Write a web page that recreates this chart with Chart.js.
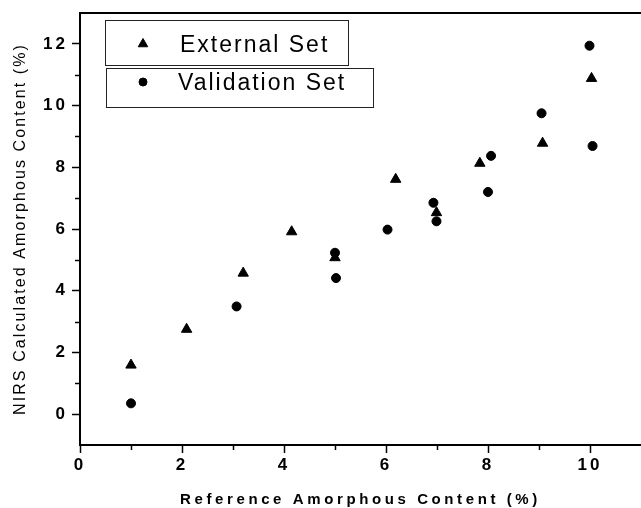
<!DOCTYPE html>
<html>
<head>
<meta charset="utf-8">
<script src="https://cdn.jsdelivr.net/npm/chart.js@4.4.1/dist/chart.umd.min.js"></script>
<style>
  html, body { margin: 0; padding: 0; background: #fff; }
  canvas { display: block; }
</style>
</head>
<body>
<canvas id="chart" width="641" height="508"></canvas>
<script>
// values: reference % (x) vs NIRS calculated % (y)
const externalX = [1.0, 2.09, 3.2, 4.15, 5.0, 6.19, 6.99, 7.84, 9.07, 10.03];
const externalY = [1.59, 2.75, 4.57, 5.91, 5.07, 7.61, 6.53, 8.13, 8.78, 10.88];
const validationX = [1.0, 3.07, 5.02, 5.0, 6.03, 6.93, 6.99, 8.0, 8.06, 9.05, 9.99, 10.05];
const validationY = [0.35, 3.49, 4.41, 5.23, 5.98, 6.85, 6.25, 7.2, 8.37, 9.75, 11.94, 8.69];

const xTicks = [0, 2, 4, 6, 8, 10];
const yTicks = [0, 2, 4, 6, 8, 10, 12];
const xMinor = [1, 3, 5, 7, 9];
const yMinor = [1, 3, 5, 7, 9, 11];
const seriesNames = ["External Set", "Validation Set"];
const xTitle = "Reference Amorphous Content (%)";
const yTitle = "NIRS Calculated Amorphous Content (%)";

const FONT = "'Liberation Sans', Arial, Helvetica, sans-serif";

// the scanned figure has very loose letter spacing, chart.js has no option for it
function withSpacing(scale, name, px) {
  if (scale["_sp_" + name]) return;
  const orig = scale[name];
  scale[name] = function () {
    const ctx = this.ctx;
    const old = ctx.letterSpacing;
    ctx.letterSpacing = px;
    orig.apply(this, arguments);
    ctx.letterSpacing = old || "0px";
  };
  scale["_sp_" + name] = true;
}

function toPoints(xs, ys) {
  return xs.map((x, i) => ({ x: x, y: ys[i] }));
}

const legendBoxes = [
  { x: 105.5, y: 20.5, w: 243, h: 45, mx: 143, my: 44, tx: 180, ty: 52 },
  { x: 106.5, y: 68.5, w: 267, h: 39, mx: 143, my: 82, tx: 178, ty: 90 },
];

const decor = {
  id: "decor",
  beforeDraw(chart) {
    const ctx = chart.ctx;
    ctx.save();
    ctx.fillStyle = "#fff";
    ctx.fillRect(0, 0, chart.width, chart.height);
    ctx.restore();
  },
  afterDraw(chart) {
    const ctx = chart.ctx;
    const area = chart.chartArea;
    const xs = chart.scales.x;
    const ys = chart.scales.y;
    ctx.save();
    ctx.strokeStyle = "#000";

    // top frame line
    ctx.lineWidth = 2;
    ctx.beginPath();
    ctx.moveTo(area.left, area.top);
    ctx.lineTo(area.right, area.top);
    ctx.stroke();

    // minor ticks
    ctx.lineWidth = 1.5;
    ctx.beginPath();
    xMinor.forEach((v) => {
      const px = Math.round(xs.getPixelForValue(v)) + 0.5;
      ctx.moveTo(px, area.bottom);
      ctx.lineTo(px, area.bottom + 5);
    });
    yMinor.forEach((v) => {
      const py = Math.round(ys.getPixelForValue(v)) + 0.5;
      ctx.moveTo(area.left, py);
      ctx.lineTo(area.left - 5, py);
    });
    ctx.stroke();

    // legend, one framed box per series
    chart.data.datasets.forEach((ds, i) => {
      const b = legendBoxes[i];
      ctx.fillStyle = "#fff";
      ctx.fillRect(b.x, b.y, b.w, b.h);
      ctx.lineWidth = 1;
      ctx.strokeStyle = "#222";
      ctx.strokeRect(b.x, b.y, b.w, b.h);
      ctx.fillStyle = "#000";
      ctx.strokeStyle = "#000";
      Chart.helpers.drawPoint(ctx, {
        pointStyle: ds.pointStyle,
        radius: ds.pointStyle === "triangle" ? 5.5 : 4,
        borderWidth: 1,
        rotation: 0,
      }, b.mx, b.my);
      ctx.font = "23px " + FONT;
      ctx.letterSpacing = "2px";
      ctx.textBaseline = "alphabetic";
      ctx.textAlign = "left";
      ctx.fillText(ds.label, b.tx, b.ty);
      ctx.letterSpacing = "0px";
    });
    ctx.restore();
  },
};

new Chart(document.getElementById("chart"), {
  type: "scatter",
  data: {
    datasets: [
      {
        label: seriesNames[0],
        data: toPoints(externalX, externalY),
        pointStyle: "triangle",
        pointRadius: 6,
        borderWidth: 1,
        backgroundColor: "#000",
        borderColor: "#000",
      },
      {
        label: seriesNames[1],
        data: toPoints(validationX, validationY),
        pointStyle: "circle",
        pointRadius: 4.5,
        borderWidth: 1,
        backgroundColor: "#000",
        borderColor: "#000",
      },
    ],
  },
  options: {
    responsive: false,
    animation: false,
    devicePixelRatio: 1,
    layout: {
      autoPadding: false,
      padding: { top: 13, right: 0, bottom: 0, left: 0 },
    },
    plugins: {
      legend: { display: false },
      tooltip: { enabled: false },
    },
    scales: {
      x: {
        type: "linear",
        min: 0,
        max: 11,
        afterBuildTicks: (s) => { s.ticks = xTicks.map((v) => ({ value: v })); },
        afterFit: (s) => {
          s.height = 63;
          s.paddingLeft = 0;
          s.paddingRight = 0;
        },
        afterUpdate: (s) => {
          withSpacing(s, "drawLabels", "3px");
          withSpacing(s, "drawTitle", "3.6px");
        },
        grid: {
          drawOnChartArea: false,
          drawTicks: true,
          tickLength: 8,
          tickColor: "#000",
          tickWidth: 1.5,
        },
        border: { display: true, color: "#000", width: 2 },
        ticks: {
          color: "#000",
          padding: 2,
          maxRotation: 0,
          font: { family: FONT, size: 17, weight: "bold" },
        },
        title: {
          display: true,
          text: xTitle,
          color: "#000",
          padding: { top: 0, bottom: 1 },
          font: { family: FONT, size: 15, weight: "bold", lineHeight: 1 },
        },
      },
      y: {
        type: "linear",
        min: -1,
        max: 13,
        afterBuildTicks: (s) => { s.ticks = yTicks.map((v) => ({ value: v })); },
        afterFit: (s) => {
          s.width = 80;
          s.paddingTop = 0;
          s.paddingBottom = 0;
        },
        afterUpdate: (s) => {
          withSpacing(s, "drawLabels", "3px");
          withSpacing(s, "drawTitle", "2.1px");
        },
        grid: {
          drawOnChartArea: false,
          drawTicks: true,
          tickLength: 8,
          tickColor: "#000",
          tickWidth: 1.5,
        },
        border: { display: true, color: "#000", width: 2 },
        ticks: {
          color: "#000",
          padding: 4,
          font: { family: FONT, size: 17, weight: "bold" },
        },
        title: {
          display: true,
          text: yTitle,
          color: "#000",
          padding: { top: 13, bottom: 0 },
          font: { family: FONT, size: 16, weight: "normal", lineHeight: 1 },
        },
      },
    },
  },
  plugins: [decor],
});
</script>
</body>
</html>
